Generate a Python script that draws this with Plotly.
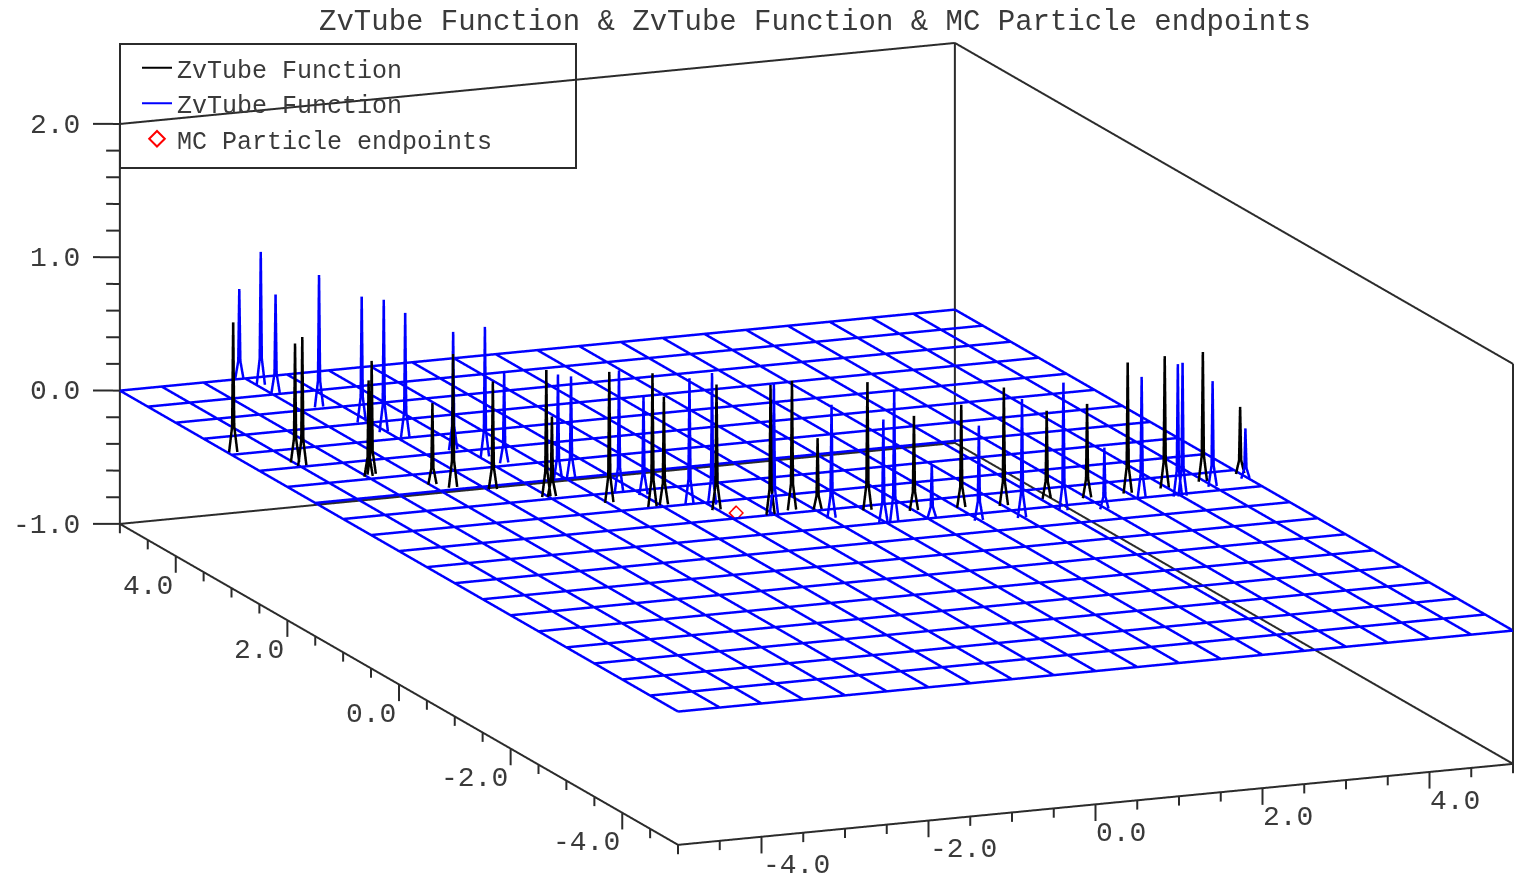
import plotly.graph_objects as go

TITLE = "ZvTube Function &amp; ZvTube Function &amp; MC Particle endpoints"
BLACK_NAME = "ZvTube Function"
BLUE_NAME = "ZvTube Function"
MARKER_NAME = "MC Particle endpoints"

grid_values = [-5, -4.5, -4, -3.5, -3, -2.5, -2, -1.5, -1, -0.5, 0, 0.5, 1, 1.5, 2, 2.5, 3, 3.5, 4, 4.5, 5]
xy_major = [-4, -2, 0, 2, 4]
z_major = [-1, 0, 1, 2]
z_minor = [-0.8, -0.6, -0.4, -0.2, 0.2, 0.4, 0.6, 0.8, 1.2, 1.4, 1.6, 1.8]
xy_labels = ["-4.0", "-2.0", "0.0", "2.0", "4.0"]
z_labels = ["-1.0", "0.0", "1.0", "2.0"]

black_x = [-4.94, -4.48, -4.48, -3.91, -3.98, -3.47, -3.31, -2.94, -2.52, -2.46, -1.98, -1.61, -1.46, -1.01, -0.55, -0.24, 0.02, 0.53, 1.0, 1.54, 2.01, 2.57, 3.0, 3.5, 3.97, 4.48, 5.0]
black_y = [3.06, 2.64, 2.51, 2.12, 2.07, 1.69, 1.56, 1.40, 1.07, 1.06, 0.75, 0.53, 0.55, 0.28, 0.0, 0.08, 0.01, -0.12, -0.25, -0.29, -0.35, -0.28, -0.36, -0.34, -0.30, -0.22, -0.11]
black_h = [0.975, 0.89, 0.97, 0.85, 0.72, 0.61, 1.0, 0.81, 0.95, 0.6, 0.98, 1.0, 0.81, 0.94, 0.975, 0.97, 0.54, 0.96, 0.71, 0.77, 0.885, 0.66, 0.705, 0.98, 0.99, 0.97, 0.5]

blue_x = [-3.57, -3.46, -3.45, -3.25, -3.08, -3.03, -2.90, -2.64, -2.44, -2.35, -2.10, -1.93, -1.69, -1.49, -1.20, -0.97, -0.51, 0.02, 0.48, 0.59, 1.06, 1.49, 1.98, 2.53, 2.98, 3.54, 3.96, 4.01, 4.49, 4.97]
blue_y = [5.0, 4.78, 4.53, 4.05, 3.54, 3.22, 3.03, 2.56, 2.29, 2.08, 1.49, 1.51, 1.01, 0.87, 0.48, 0.42, 0.0, -0.24, -0.48, -0.51, -0.48, -0.68, -0.72, -0.64, -0.70, -0.53, -0.55, -0.56, -0.38, -0.25]
blue_h = [0.675, 1.0, 0.74, 0.99, 0.94, 0.99, 0.93, 0.885, 0.975, 0.675, 0.79, 0.76, 0.91, 0.735, 0.95, 0.99, 0.99, 0.85, 0.77, 0.99, 0.40, 0.71, 0.89, 0.96, 0.46, 0.915, 0.99, 1.0, 0.79, 0.375]

endpoint_x = [-0.865]
endpoint_y = [0.148]
endpoint_z = [0.0]

XMIN, XMAX, YMIN, YMAX, ZMIN, ZMAX = -5, 5, -5, 5, -1, 2
XLOW, XHIGH, YLOW, YHIGH, ZLOW, ZHIGH = -5.31, 5.05, -5.05, 5.09, -1.15, 2.05
INK = "#2b2b2b"
TEXT = "#3a3a3a"
FONT = "Liberation Mono"


def spike_path(xs, ys, hs, half_base=0.05):
    px, py, pz = [], [], []
    for x, y, h in zip(xs, ys, hs):
        px += [x - half_base, x - half_base / 4, x, x + half_base / 4, x + half_base, None]
        py += [y, y, y, y, y, None]
        pz += [0, 0.2 * h, h, 0.2 * h, 0, None]
    return px, py, pz


def segments(pairs):
    px, py, pz = [], [], []
    for a, b in pairs:
        px += [a[0], b[0], None]
        py += [a[1], b[1], None]
        pz += [a[2], b[2], None]
    return px, py, pz


gx, gy, gz = [], [], []
for g in grid_values:
    gx += [g, g, None, XMIN, XMAX, None]
    gy += [YMIN, YMAX, None, g, g, None]
    gz += [0, 0, None, 0, 0, None]
sx, sy, sz = spike_path(blue_x, blue_y, blue_h)
bx, by, bz = spike_path(black_x, black_y, black_h)

box = [
    ((XMIN, YMIN, ZMIN), (XMAX, YMIN, ZMIN)),
    ((XMAX, YMIN, ZMIN), (XMAX, YMAX, ZMIN)),
    ((XMAX, YMAX, ZMIN), (XMIN, YMAX, ZMIN)),
    ((XMIN, YMAX, ZMIN), (XMIN, YMIN, ZMIN)),
    ((XMIN, YMAX, ZMIN), (XMIN, YMAX, ZMAX)),
    ((XMAX, YMAX, ZMIN), (XMAX, YMAX, ZMAX)),
    ((XMAX, YMIN, ZMIN), (XMAX, YMIN, ZMAX)),
    ((XMIN, YMAX, ZMAX), (XMAX, YMAX, ZMAX)),
    ((XMAX, YMAX, ZMAX), (XMAX, YMIN, ZMAX)),
]

ticks = []
for g in grid_values:
    length = 0.125 if g in xy_major else 0.07
    ticks.append(((g, YMIN, ZMIN), (g, YMIN, ZMIN - length)))
    ticks.append(((XMIN, g, ZMIN), (XMIN, g, ZMIN - length)))
for z in z_major:
    ticks.append(((XMIN, YMAX, z), (XLOW + 0.01, YHIGH - 0.01, z)))
for z in z_minor:
    ticks.append(((XMIN, YMAX, z), (XMIN - 0.14, YMAX + 0.037, z)))

fig = go.Figure()
# legend keys: these sit outside the axis ranges, so only their legend swatches appear
fig.add_trace(go.Scatter3d(x=[XLOW - 1], y=[YMIN], z=[0], mode="lines", name=BLACK_NAME,
                           line=dict(color="#000000", width=2), hoverinfo="skip"))
fig.add_trace(go.Scatter3d(x=[XLOW - 1], y=[YMIN], z=[0], mode="lines", name=BLUE_NAME,
                           line=dict(color="#0000ff", width=2), hoverinfo="skip"))
fig.add_trace(go.Scatter3d(x=[XLOW - 1], y=[YMIN], z=[0], mode="markers", name=MARKER_NAME,
                           marker=dict(symbol="diamond-open", size=12, color="#ff0000",
                                       line=dict(color="#ff0000", width=2)), hoverinfo="skip"))
fig.add_trace(go.Scatter3d(x=bx, y=by, z=bz, mode="lines", showlegend=False,
                           line=dict(color="#000000", width=5), hoverinfo="skip"))
fig.add_trace(go.Scatter3d(x=gx + sx, y=gy + sy, z=gz + sz, mode="lines", showlegend=False,
                           line=dict(color="#0000ff", width=5), hoverinfo="skip"))
fig.add_trace(go.Scatter3d(x=endpoint_x, y=endpoint_y, z=endpoint_z, mode="markers", showlegend=False,
                           marker=dict(symbol="diamond-open", size=5, color="#ff0000",
                                       line=dict(color="#ff0000", width=2)), hoverinfo="skip"))
tx, ty, tz = segments(box + ticks)
fig.add_trace(go.Scatter3d(x=tx, y=ty, z=tz, mode="lines", showlegend=False,
                           line=dict(color=INK, width=4), hoverinfo="skip"))

annotations = []
label_font = dict(family=FONT, size=28, color=TEXT)
for v, t in zip(xy_major, xy_labels):
    negative = t.startswith("-")
    annotations.append(dict(x=v, y=YMIN, z=ZMIN, text=t, showarrow=False, xanchor="center",
                            yanchor="middle", xshift=35 if negative else 25, yshift=-29, font=label_font))
    annotations.append(dict(x=XMIN, y=v, z=ZMIN, text=t, showarrow=False, xanchor="center",
                            yanchor="middle", xshift=-36 if negative else -28, yshift=-30, font=label_font))
for v, t in zip(z_major, z_labels):
    annotations.append(dict(x=XMIN, y=YMAX, z=v, text=t, showarrow=False, xanchor="right",
                            yanchor="middle", xshift=-38, yshift=-1, font=label_font))

a, b, c = 90.27, 146.9, 137.2
scale = 427.0
eye_len = 8.0
fig.update_layout(
    width=1516, height=880, autosize=False, margin=dict(l=0, r=0, t=0, b=0),
    paper_bgcolor="white", plot_bgcolor="white",
    title=dict(text=TITLE, x=815 / 1516, xanchor="center", y=1 - 20 / 880, yanchor="middle",
               font=dict(family=FONT, size=29, color=TEXT)),
    legend=dict(x=137 / 1516, y=1 - 45 / 880, xanchor="left", yanchor="top", bgcolor="rgba(0,0,0,0)",
                borderwidth=0, font=dict(family=FONT, size=25, color=TEXT), itemwidth=30),
    shapes=[dict(type="rect", xref="paper", yref="paper", x0=120 / 1516, x1=576 / 1516,
                 y0=1 - 168 / 880, y1=1 - 44 / 880, line=dict(color=INK, width=2), fillcolor="rgba(0,0,0,0)")],
    scene=dict(
        domain=dict(x=[93 / 1516, 1], y=[1.8 / 880, 1 - 24.2 / 880]),
        xaxis=dict(visible=False, range=[XLOW, XHIGH]),
        yaxis=dict(visible=False, range=[YLOW, YHIGH]),
        zaxis=dict(visible=False, range=[ZLOW, ZHIGH]),
        bgcolor="white",
        aspectmode="manual",
        aspectratio=dict(x=a * (XHIGH - XLOW) / scale, y=b * (YHIGH - YLOW) / scale, z=c * (ZHIGH - ZLOW) / scale),
        camera=dict(projection=dict(type="orthographic"), center=dict(x=0, y=0, z=0), up=dict(x=0, y=0, z=1),
                    eye=dict(x=-0.3692 * eye_len, y=-0.8988 * eye_len, z=0.2362 * eye_len)),
        annotations=annotations,
    ),
)
fig.write_html("out.html", config=dict(displayModeBar=False), post_script="document.body.style.margin='0';")
